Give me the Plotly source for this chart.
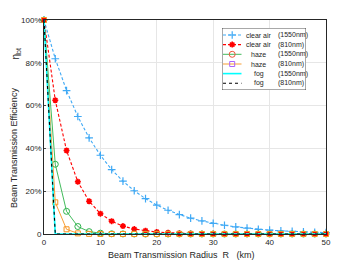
import plotly.graph_objects as go

R = [0, 2, 4, 6, 8, 10, 12, 14, 16, 18, 20, 22, 24, 26, 28, 30, 32, 34, 36, 38, 40, 42, 44, 46, 48, 50]
clear_1550 = [100, 81.9, 67.0, 54.9, 44.9, 36.8, 30.1, 24.7, 20.2, 16.5, 13.5, 11.1, 9.1, 7.4, 6.1, 5.0,
              4.1, 3.3, 2.7, 2.2, 1.8, 1.5, 1.2, 1.0, 0.8, 0.7]
clear_810 = [100, 62.5, 39.0, 24.4, 15.3, 9.5, 6.0, 3.7, 2.3, 1.5, 0.9, 0.6, 0.35, 0.22, 0.14, 0.09,
             0.05, 0.03, 0.02, 0.01, 0.01, 0, 0, 0, 0, 0]
haze_1550 = [100, 32.6, 10.6, 3.5, 1.1, 0.4, 0.1, 0.04, 0.01, 0, 0, 0, 0, 0, 0, 0,
             0, 0, 0, 0, 0, 0, 0, 0, 0, 0]
haze_810 = [100, 14.8, 2.2, 0.3, 0.05, 0.01, 0, 0, 0, 0, 0, 0, 0, 0, 0, 0,
            0, 0, 0, 0, 0, 0, 0, 0, 0, 0]
fog_1550 = [100, 0, 0, 0, 0, 0, 0, 0, 0, 0, 0, 0, 0, 0, 0, 0, 0, 0, 0, 0, 0, 0, 0, 0, 0, 0]
fog_810 = [100, 0, 0, 0, 0, 0, 0, 0, 0, 0, 0, 0, 0, 0, 0, 0, 0, 0, 0, 0, 0, 0, 0, 0, 0, 0]

series_names = ["clear air", "clear air", "haze", "haze", "fog", "fog"]
series_wavelengths = ["(1550nm)", "(810nm)", "(1550nm)", "(810nm)", "(1550nm)", "(810nm)"]

x_ticks = [0, 10, 20, 30, 40, 50]
y_ticks = [0, 20, 40, 60, 80, 100]
y_ticktext = ["0", "20%", "40%", "60%", "80%", "100%"]

NB = "\u00a0"
x_title = "Beam Transmission Radius" + NB * 2 + "R" + NB * 3 + "(km)"
y_title = "Beam Transmission Efficiency"

BLUE, RED, GREEN, ORANGE, CYAN, BLACK = "#3FA9F5", "#FF0000", "#2CB34A", "#F7931E", "#00FFFF", "#000000"
styles = [
    dict(mode="lines+markers", line=dict(color=BLUE, width=1.1, dash="3px,2px"),
         marker=dict(symbol="cross-thin", size=5.5, line=dict(color=BLUE, width=1.2))),
    dict(mode="lines+markers", line=dict(color=RED, width=1.1, dash="3px,2px"),
         marker=dict(symbol="asterisk", size=5, line=dict(color=RED, width=1.6))),
    dict(mode="lines+markers", line=dict(color=GREEN, width=0.9),
         marker=dict(symbol="circle-open", size=6, line=dict(color=GREEN, width=1))),
    dict(mode="lines+markers", line=dict(color=ORANGE, width=0.9),
         marker=dict(symbol="square-open", size=5, line=dict(color=ORANGE, width=1))),
    dict(mode="lines", line=dict(color=CYAN, width=1.6)),
    dict(mode="lines", line=dict(color=BLACK, width=1.1, dash="dot")),
]
data = [clear_1550, clear_810, haze_1550, haze_810, fog_1550, fog_810]

# screen layout (page body adds an 8px offset)
OFF = 8
W, H = 350, 263
SX0, SX1, SY0, SY1 = 44, 326, 20, 234          # plot area in screen pixels
L, Rm, T, B = SX0 - OFF, W - (SX1 - OFF), SY0 - OFF, H - (SY1 - OFF)
pw, ph = SX1 - SX0, SY1 - SY0


def px(sx):
    return (sx - SX0) / pw


def py(sy):
    return (SY1 - sy) / ph


fig = go.Figure()
for ys, st in zip(data, styles):
    fig.add_trace(go.Scatter(x=R, y=ys, showlegend=False, cliponaxis=False, **st))

# compact legend on an overlay axis in screen-pixel coordinates
LX0, LX1, LY0, LY1 = 222, 306, 28, 90
fig.add_shape(type="rect", x0=LX0, x1=LX1, y0=LY0, y1=LY1, xref="x2", yref="y2",
              line=dict(width=0), fillcolor="white", layer="below")
leg_rows = [35, 44.6, 54.3, 64, 73.6, 83.3]
for yy, st, nm, wl in zip(leg_rows, styles, series_names, series_wavelengths):
    fig.add_trace(go.Scatter(x=[223, 241.5], y=[yy, yy], xaxis="x2", yaxis="y2", showlegend=False,
                             mode="lines", line=st["line"], cliponaxis=False))
    if "marker" in st:
        fig.add_trace(go.Scatter(x=[232.2], y=[yy], xaxis="x2", yaxis="y2", showlegend=False,
                                 mode="markers", marker=st["marker"], cliponaxis=False))
    fig.add_annotation(x=258.5, y=yy, xref="x2", yref="y2", text=nm, showarrow=False,
                       xanchor="center", yanchor="middle", font=dict(size=7, color="#262626"))
    fig.add_annotation(x=276, y=yy, xref="x2", yref="y2", text=wl, showarrow=False,
                       xanchor="left", yanchor="middle", font=dict(size=7, color="#262626"))
fig.add_shape(type="rect", x0=LX0, x1=LX1, y0=LY0, y1=LY1, xref="x2", yref="y2",
              line=dict(color="#262626", width=0.8), fillcolor="rgba(255,255,255,0)", layer="above")

fig.update_layout(
    width=W, height=H,
    margin=dict(l=L, r=Rm, t=T, b=B),
    paper_bgcolor="white", plot_bgcolor="white",
    font=dict(family="Liberation Sans, Arial, sans-serif", size=8, color="#262626"),
    showlegend=False,
    xaxis=dict(range=[0, 50], tickvals=x_ticks, showgrid=True, gridcolor="#E6E6E6",
               showline=True, linecolor="#262626", linewidth=0.8, mirror=True, zeroline=False,
               ticks="inside", ticklen=2, automargin=False),
    yaxis=dict(range=[0, 100], tickvals=y_ticks, ticktext=y_ticktext, showgrid=True,
               gridcolor="#E6E6E6", showline=True, linecolor="#262626", linewidth=0.8, mirror=True,
               zeroline=False, ticks="inside", ticklen=2, automargin=False),
    xaxis2=dict(domain=[px(LX0), px(LX1)], range=[LX0, LX1], visible=False,
                anchor="y2", fixedrange=True),
    yaxis2=dict(domain=[py(LY1), py(LY0)], range=[LY1, LY0], visible=False,
                anchor="x2", fixedrange=True),
)

fig.add_annotation(text=x_title, x=px(181.5), y=py(255), xref="paper", yref="paper",
                   xanchor="center", yanchor="middle", showarrow=False,
                   font=dict(size=9, color="#262626"))
fig.add_annotation(text=y_title, x=px(14), y=py(148), xref="paper", yref="paper",
                   xanchor="center", yanchor="middle", showarrow=False, textangle=-90,
                   font=dict(size=9, color="#262626"))
fig.add_annotation(text="η<sub>bt</sub>", x=px(15.5), y=py(54), xref="paper", yref="paper",
                   xanchor="center", yanchor="middle", showarrow=False, textangle=-90,
                   font=dict(size=10, color="#262626"))

fig.write_html("out.html")
